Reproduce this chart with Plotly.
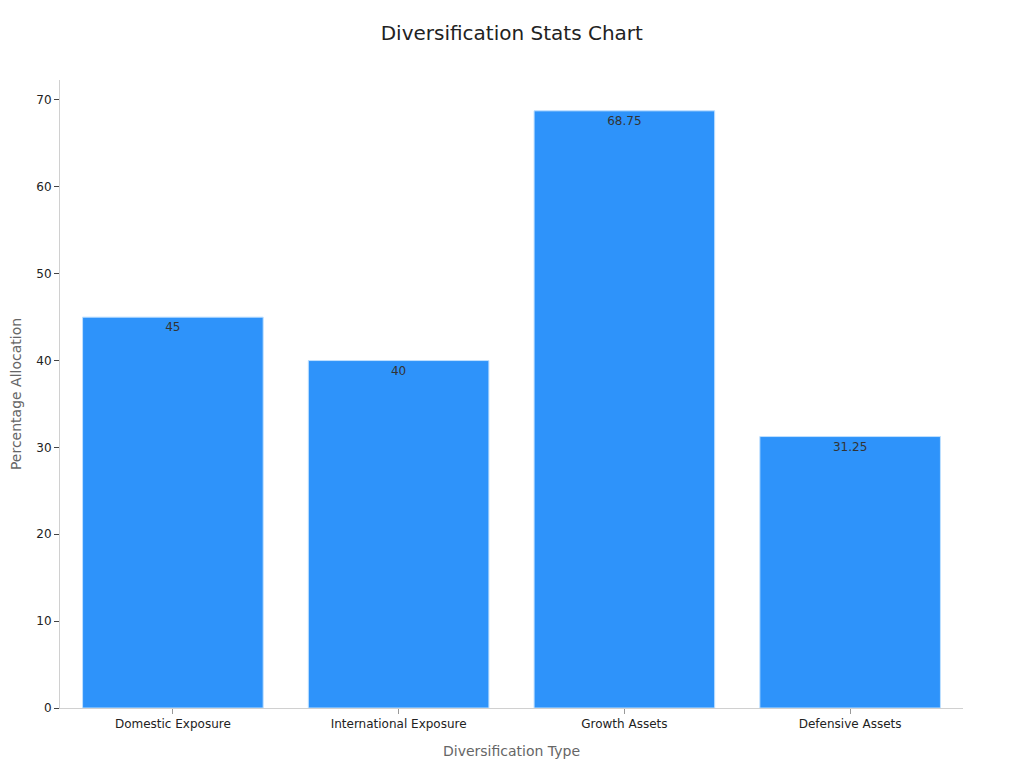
import plotly.graph_objects as go

categories = ["Domestic Exposure", "International Exposure", "Growth Assets", "Defensive Assets"]
allocation = [45, 40, 68.75, 31.25]
labels = ["45", "40", "68.75", "31.25"]

fig = go.Figure()
fig.add_trace(
    go.Bar(
        x=categories,
        y=allocation,
        text=labels,
        textposition="inside",
        insidetextanchor="end",
        textfont=dict(color="#333333", size=12),
        marker=dict(color="#2E93FA", line=dict(color="#BFE0FF", width=1)),
    )
)

# the page body has an 8px margin, so margins are shifted by that much
fig.update_layout(
    title=dict(text="Diversification Stats Chart", x=0.492, y=0.9674, xanchor="center", yanchor="middle",
               font=dict(size=20, color="#222222")),
    font=dict(family="DejaVu Sans", color="#222222"),
    paper_bgcolor="white",
    plot_bgcolor="white",
    width=1024,
    height=768,
    margin=dict(l=52, r=69, t=72, b=68),
    bargap=0.2,
    showlegend=False,
)

fig.update_xaxes(
    title=dict(text="Diversification Type", font=dict(size=14, color="#666666")),
    tickfont=dict(size=12),
    showline=True,
    linecolor="#D0D0D0",
    ticks="outside",
    tickcolor="#999999",
    ticklen=5,
    showgrid=False,
)

fig.update_yaxes(
    title=dict(text="Percentage Allocation", font=dict(size=14, color="#666666")),
    tickfont=dict(size=12),
    range=[0, 72.3],
    dtick=10,
    automargin=False,
    showline=True,
    linecolor="#D0D0D0",
    ticks="outside",
    tickcolor="#444444",
    ticklen=5,
    showgrid=False,
    zeroline=False,
)

fig.write_html("out.html")
